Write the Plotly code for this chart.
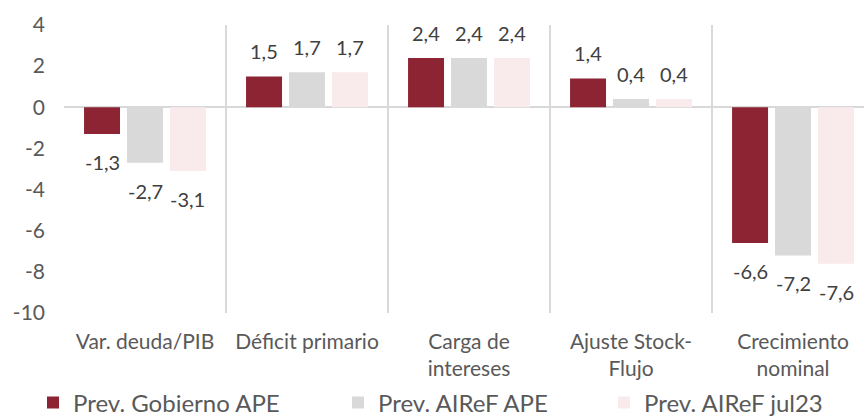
import plotly.graph_objects as go

# Categories and series values
categories = [
    "Var. deuda/PIB",
    "Déficit primario",
    "Carga de<br>intereses",
    "Ajuste Stock-<br>Flujo",
    "Crecimiento<br>nominal",
]
gobierno_ape = [-1.3, 1.5, 2.4, 1.4, -6.6]
airef_ape = [-2.7, 1.7, 2.4, 0.4, -7.2]
airef_jul23 = [-3.1, 1.7, 2.4, 0.4, -7.6]

series_names = ["Prev. Gobierno APE", "Prev. AIReF APE", "Prev. AIReF jul23"]
series_values = [gobierno_ape, airef_ape, airef_jul23]
series_colors = ["#8C2433", "#D9D9D9", "#F9EAEB"]
legend_ids = ["legend", "legend2", "legend3"]
legend_x_px = [33, 338, 604]

y_ticks = [4, 2, 0, -2, -4, -6, -8, -10]

FONT = "Lato"
W, H = 864, 419
BARGAP = 0.204
BARGROUPGAP = 0.163


def fmt(v):
    return f"{v:.1f}".replace(".", ",")


fig = go.Figure()
for name, vals, color, lid in zip(series_names, series_values, series_colors, legend_ids):
    fig.add_trace(go.Bar(
        name=name,
        x=categories,
        y=vals,
        marker=dict(color=color, line=dict(width=0)),
        legend=lid,
    ))

# Value labels, placed at each bar's end
n = len(series_values)
slot = (1 - BARGAP) / n
annotations = []
for j, vals in enumerate(series_values):
    offset = (j - (n - 1) / 2) * slot
    for i, v in enumerate(vals):
        annotations.append(dict(
            x=i + offset, y=v, xref="x", yref="y",
            text=fmt(v), showarrow=False,
            yanchor="bottom" if v >= 0 else "top",
            yshift=11 if v >= 0 else -14,
            font=dict(family=FONT, size=20, color="#404040"),
        ))

legend_common = dict(
    orientation="h",
    xref="container", yref="container",
    yanchor="middle", y=(H - 403) / H,
    xanchor="left",
    font=dict(family=FONT, size=24, color="#595959"),
    bgcolor="rgba(0,0,0,0)",
    itemclick=False, itemdoubleclick=False,
)

fig.update_layout(
    width=W, height=H,
    margin=dict(l=64, r=0, t=25, b=106),
    paper_bgcolor="white",
    plot_bgcolor="white",
    barmode="group",
    bargap=BARGAP,
    bargroupgap=BARGROUPGAP,
    font=dict(family=FONT, color="#595959"),
    annotations=annotations,
    legend=dict(legend_common, x=legend_x_px[0] / W),
    legend2=dict(legend_common, x=legend_x_px[1] / W),
    legend3=dict(legend_common, x=legend_x_px[2] / W),
    showlegend=True,
)

fig.update_xaxes(
    type="category",
    range=[-0.5, 4.438],
    tickson="boundaries",
    showgrid=True,
    gridcolor="#D9D9D9",
    gridwidth=1.5,
    ticks="",
    showline=False,
    tickfont=dict(family=FONT, size=21, color="#595959"),
    ticklabelstandoff=14,
)

fig.update_yaxes(
    range=[-10, 4],
    tickvals=y_ticks,
    ticktext=[str(t) for t in y_ticks],
    showgrid=False,
    zeroline=True,
    zerolinecolor="#D9D9D9",
    zerolinewidth=2,
    showline=False,
    ticks="",
    tickfont=dict(family=FONT, size=21, color="#595959"),
    ticklabelstandoff=18,
)

fig.write_html("out.html")
